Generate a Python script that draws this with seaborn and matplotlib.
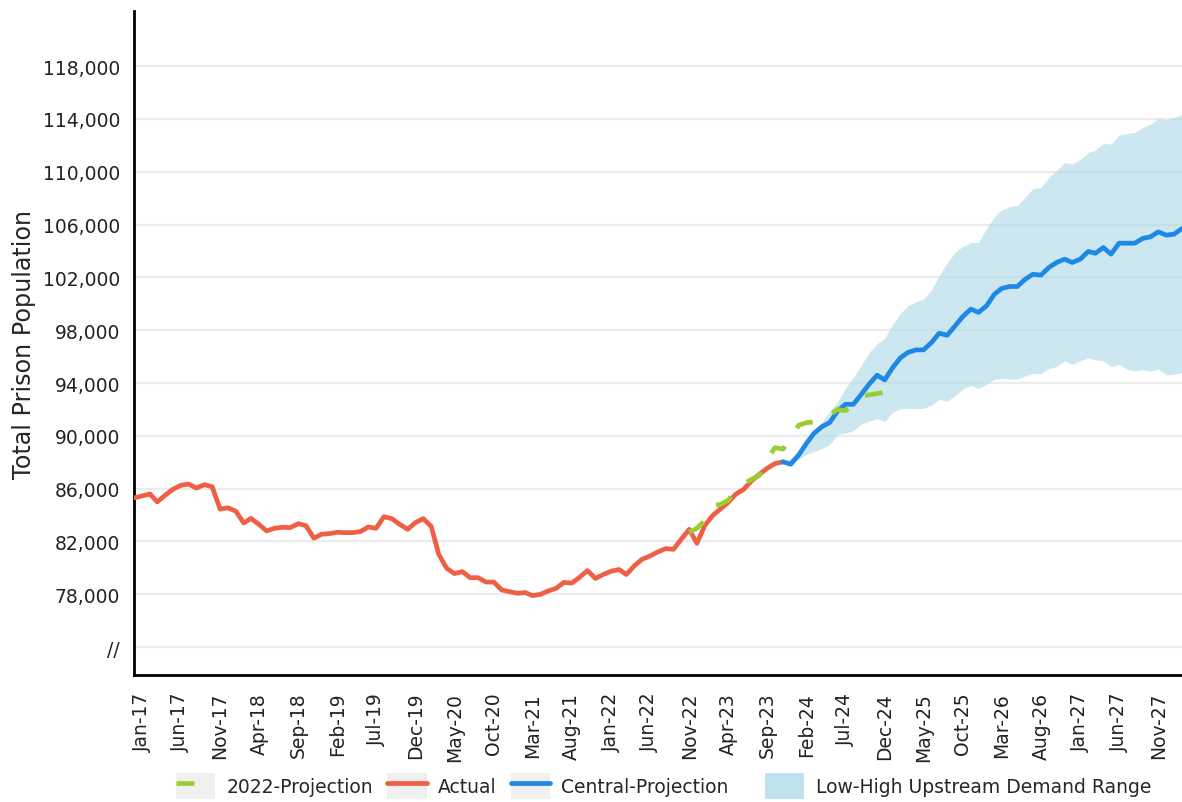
import numpy as np
import pandas as pd
import matplotlib
matplotlib.use("Agg")
import matplotlib.pyplot as plt
import seaborn as sns
from matplotlib.patches import Patch
from matplotlib.lines import Line2D
from matplotlib.legend_handler import HandlerTuple

# actual population, monthly from Dec-16 to Nov-23
actual = [85300, 85450, 85600, 85000, 85500, 85950, 86250, 86350, 86050, 86300,
          86150, 84450, 84550, 84300, 83400, 83750, 83300, 82800, 83000, 83080,
          83050, 83350, 83200, 82250, 82550, 82600, 82700, 82670, 82670, 82750,
          83100, 83000, 83880, 83730, 83300, 82920, 83430, 83730, 83130, 81030,
          79970, 79570, 79720, 79260, 79260, 78930, 78930, 78330, 78200, 78080,
          78130, 77900, 78000, 78250, 78450, 78900, 78850, 79300, 79800, 79200,
          79500, 79750, 79880, 79500, 80150, 80650, 80900, 81200, 81460, 81410,
          82170, 82920, 81860, 83230, 83980, 84440, 84950, 85580, 85950, 86580,
          87090, 87550, 87900, 88030]
actual_start = "2016-12-01"

# 2022 projection, Nov-22 to Dec-24
proj_2022 = [82700, 83000, 83600, 84700, 84800, 85100, 85900, 86350, 86700, 87000,
             88300, 89100, 89000, 89800, 90800, 91000, 91050, 91400, 91600, 92000,
             91900, 92300, 93000, 93100, 93200, 93300]
proj_2022_start = "2022-11-01"

# central projection and low/high range, Nov-23 to Feb-28
central = [88030, 87850, 88550, 89450, 90200, 90700, 91010, 91900, 92390, 92390,
           93150, 93910, 94590, 94240, 95170, 95930, 96310, 96510, 96510, 97070,
           97770, 97620, 98330, 99040, 99600, 99350, 99840, 100730, 101160, 101310,
           101310, 101860, 102240, 102170, 102750, 103130, 103380, 103130, 103380, 103960,
           103830, 104260, 103760, 104590, 104590, 104590, 104950, 105070, 105450, 105200,
           105270, 105700]
high = [88030, 88300, 88850, 89500, 90250, 91050, 91850, 92600, 93600, 94450,
        95350, 96300, 96970, 97400, 98450, 99300, 99850, 100150, 100350, 101050,
        102150, 103100, 103900, 104350, 104640, 104650, 105700, 106600, 107100, 107350,
        107450, 108100, 108730, 108800, 109600, 110100, 110700, 110580, 110950, 111450,
        111650, 112140, 112100, 112770, 112880, 112970, 113350, 113600, 114050, 113930,
        114100, 114360]
low = [88030, 87800, 88250, 88600, 88800, 89050, 89360, 90100, 90220, 90400,
       90900, 91100, 91300, 91100, 91800, 92050, 92080, 92070, 92070, 92320,
       92750, 92640, 93050, 93550, 93830, 93580, 93910, 94290, 94340, 94300,
       94290, 94550, 94720, 94720, 95100, 95250, 95680, 95420, 95680, 95930,
       95750, 95680, 95220, 95420, 95050, 94920, 95000, 94900, 95050, 94620,
       94670, 94800]
central_start = "2023-11-01"

y_ticks = list(range(74000, 118001, 4000))
y_labels = ["//"] + [f"{v:,}" for v in y_ticks[1:]]

red = "#ef5f45"
blue = "#1e88e5"
green = "#9acd32"
band = "#add8e6"
dash = [3.8, 4.6]

df_actual = pd.DataFrame({"date": pd.date_range(actual_start, periods=len(actual), freq="MS"),
                          "pop": actual})
df_2022 = pd.DataFrame({"date": pd.date_range(proj_2022_start, periods=len(proj_2022), freq="MS"),
                        "pop": proj_2022})
df_central = pd.DataFrame({"date": pd.date_range(central_start, periods=len(central), freq="MS"),
                           "pop": central, "low": low, "high": high})

sns.set_style("white")
plt.rcParams["font.family"] = ["DejaVu Sans"]

fig = plt.figure(figsize=(11.82, 8.03), dpi=100)
ax = fig.add_axes([0.1134, 0.158, 0.8866, 0.827])

ax.fill_between(df_central["date"], df_central["low"], df_central["high"],
                color=band, alpha=0.6, linewidth=0, zorder=2)
sns.lineplot(data=df_actual, x="date", y="pop", ax=ax, color=red, linewidth=3.4, zorder=3)
sns.lineplot(data=df_central, x="date", y="pop", ax=ax, color=blue, linewidth=3.4, zorder=4)
sns.lineplot(data=df_2022, x="date", y="pop", ax=ax, color=green, linewidth=3.4, zorder=5)
ax.lines[-1].set_dashes(dash)

ax.set_ylim(71880, 122170)
ax.set_xlim(pd.Timestamp("2016-12-01"), pd.Timestamp("2028-02-01"))
ax.set_yticks(y_ticks)
ax.set_yticklabels(y_labels)
xt = pd.date_range("2017-01-01", "2027-11-01", freq="5MS")
ax.set_xticks(xt)
ax.set_xticklabels([d.strftime("%b-%y") for d in xt], rotation=90)

ax.grid(axis="y", color="#ececec", linewidth=1.6, zorder=0)
ax.set_axisbelow(True)
ax.tick_params(axis="both", length=0, labelsize=13.5, colors="#222222")
ax.tick_params(axis="y", pad=10)
ax.tick_params(axis="x", pad=12)
for s in ["top", "right"]:
    ax.spines[s].set_visible(False)
for s in ["left", "bottom"]:
    ax.spines[s].set_color("black")
    ax.spines[s].set_linewidth(2)

ax.set_xlabel("")
ax.set_ylabel("Total Prison Population", fontsize=17.2, labelpad=5)

box = "#f0f0f0"
h_green = (Patch(facecolor=box, edgecolor="none"),
           Line2D([], [], color=green, linewidth=3.4, dashes=dash))
h_red = (Patch(facecolor=box, edgecolor="none"), Line2D([], [], color=red, linewidth=3.4))
h_blue = (Patch(facecolor=box, edgecolor="none"), Line2D([], [], color=blue, linewidth=3.4))
h_band = Patch(facecolor=band, alpha=0.75, edgecolor="none")

leg_y = 0.04 - 3 / 803
leg_kw = dict(handler_map={tuple: HandlerTuple(ndivide=1)}, frameon=False,
              handlelength=2.1, handleheight=1.8, handletextpad=0.6, columnspacing=0.75,
              borderpad=0, borderaxespad=0, fontsize=13.5)
fig.legend([h_green, h_red, h_blue], ["2022-Projection", "Actual", "Central-Projection"],
           loc="upper left", bbox_to_anchor=(176 / 1182, leg_y), ncol=3, **leg_kw)
fig.legend([h_band], ["Low-High Upstream Demand Range"],
           loc="upper left", bbox_to_anchor=(765 / 1182, leg_y), ncol=1, **leg_kw)

fig.savefig("out.png", dpi=100)
